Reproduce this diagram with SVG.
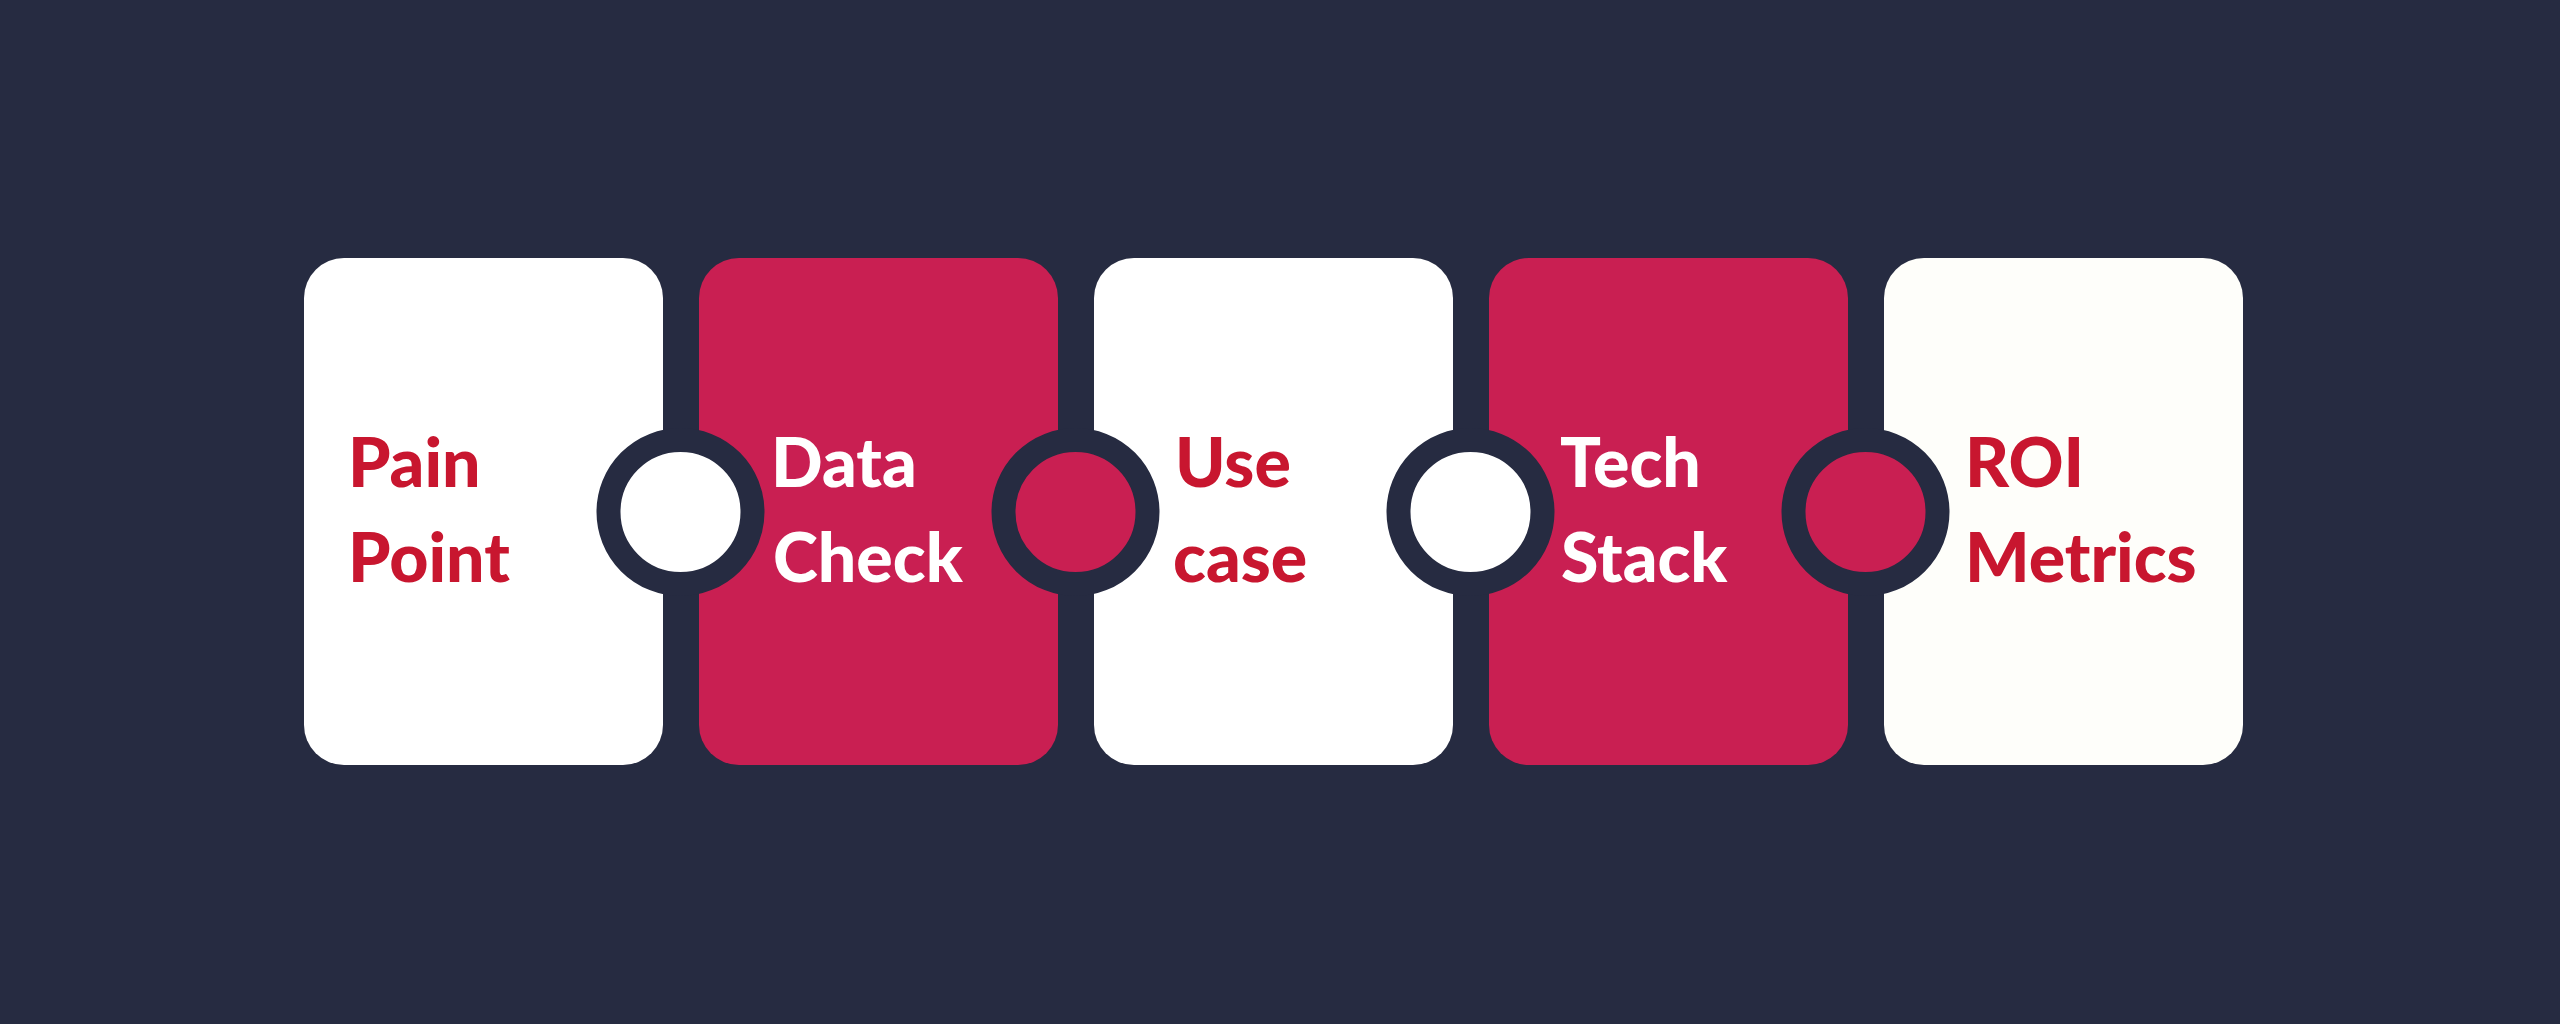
<svg xmlns="http://www.w3.org/2000/svg" width="2560" height="1024" viewBox="0 0 2560 1024">
<style>
.bg{fill:#262B41}
.card-w{fill:#FFFFFF}
.card-w5{fill:#FEFEFA}
.card-r{fill:#C91F52}
.lbl{font-family:"Lato","Liberation Sans",sans-serif;font-weight:900;font-size:68px}
.t-red{fill:#C8162F}
.t-white{fill:#FFFFFF}
.joint{stroke:#262B41;stroke-width:24}
.j-w{fill:#FFFFFF}
.j-r{fill:#C91F52}
</style>
<rect class="bg" x="0" y="0" width="2560" height="1024"/>
<g id="node-pain-point">
<rect class="card-w" x="304" y="258" width="359" height="507" rx="40" ry="40"/>
<text class="lbl t-red" x="348"><tspan x="348" y="487">Pain</tspan><tspan x="348" y="582">Point</tspan></text>
</g>
<g id="node-data-check">
<rect class="card-r" x="699" y="258" width="359" height="507" rx="40" ry="40"/>
<text class="lbl t-white" x="771"><tspan x="771" y="487">Data</tspan><tspan x="773" y="582">Check</tspan></text>
</g>
<g id="node-use-case">
<rect class="card-w" x="1094" y="258" width="359" height="507" rx="40" ry="40"/>
<text class="lbl t-red" x="1175"><tspan x="1175" y="487">Use</tspan><tspan x="1173" y="582">case</tspan></text>
</g>
<g id="node-tech-stack">
<rect class="card-r" x="1489" y="258" width="359" height="507" rx="40" ry="40"/>
<text class="lbl t-white" x="1560"><tspan x="1560" y="487">Tech</tspan><tspan x="1561" y="582">Stack</tspan></text>
</g>
<g id="node-roi-metrics">
<rect class="card-w5" x="1884" y="258" width="359" height="507" rx="40" ry="40"/>
<text class="lbl t-red" x="1965"><tspan x="1965" y="487">ROI</tspan><tspan x="1965" y="582">Metrics</tspan></text>
</g>
<g id="connectors">
<circle class="joint j-w" cx="680.5" cy="512" r="72"/>
<circle class="joint j-r" cx="1075.5" cy="512" r="72"/>
<circle class="joint j-w" cx="1470.5" cy="512" r="72"/>
<circle class="joint j-r" cx="1865.5" cy="512" r="72"/>
</g>
</svg>
